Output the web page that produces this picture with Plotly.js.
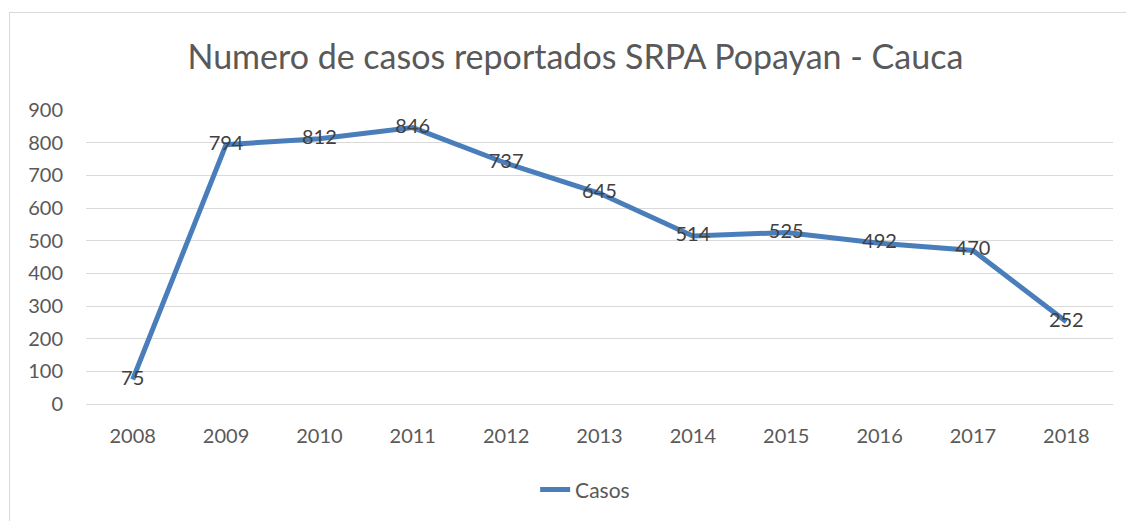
<!DOCTYPE html>
<html>
<head>
<meta charset="utf-8">
<script src="https://cdn.plot.ly/plotly-3.0.1.min.js"></script>
<style>
  html, body { margin: 0; padding: 0; background: #fff; overflow: hidden; }
  #chart { width: 1126px; height: 521px; }
  #frame { position: absolute; left: 9px; top: 12px; width: 1140px; height: 540px;
           border: 1px solid #d9d9d9; pointer-events: none; box-sizing: border-box; }
</style>
</head>
<body>
<div id="chart"></div>
<div id="frame"></div>
<script>
const years = ['2008','2009','2010','2011','2012','2013','2014','2015','2016','2017','2018'];
const casos = [75, 794, 812, 846, 737, 645, 514, 525, 492, 470, 252];
const seriesName = 'Casos';
const titleText = 'Numero de casos reportados SRPA Popayan - Cauca';

const FONT = 'Lato, "Open Sans", sans-serif';

const trace = {
  x: years,
  y: casos,
  name: seriesName,
  type: 'scatter',
  mode: 'lines+text',
  text: casos.map(String),
  textposition: 'middle center',
  textfont: { family: FONT, size: 20, color: '#404040' },
  line: { color: '#4a7ebb', width: 5 },
  cliponaxis: false,
  hoverinfo: 'x+y'
};

const layout = {
  width: 1126,
  height: 521,
  margin: { l: 86, r: 13, t: 110, b: 116 },
  paper_bgcolor: '#ffffff',
  plot_bgcolor: '#ffffff',
  font: { family: FONT, color: '#595959' },
  title: {
    text: titleText,
    font: { family: FONT, size: 34, color: '#595959' },
    xref: 'container', x: 0.511, xanchor: 'center',
    yref: 'container', y: 1 - 57/521, yanchor: 'middle'
  },
  xaxis: {
    type: 'category',
    range: [-0.5, 10.5],
    showgrid: false,
    showline: false,
    zeroline: false,
    ticks: '',
    ticklabelstandoff: 18,
    tickfont: { family: FONT, size: 20, color: '#595959' }
  },
  yaxis: {
    range: [0, 900],
    dtick: 100,
    tick0: 0,
    showgrid: true,
    gridcolor: '#d9d9d9',
    gridwidth: 1,
    zeroline: true,
    zerolinecolor: '#d9d9d9',
    zerolinewidth: 1,
    showline: false,
    ticks: '',
    ticklabelstandoff: 22,
    tickfont: { family: FONT, size: 20, color: '#595959' }
  },
  showlegend: true,
  legend: {
    orientation: 'h',
    x: 0.486, xanchor: 'center',
    y: -0.288, yanchor: 'middle',
    font: { family: FONT, size: 21, color: '#595959' },
    itemwidth: 30
  }
};

Plotly.newPlot('chart', [trace], layout, { displayModeBar: false, staticPlot: true });
</script>
</body>
</html>
